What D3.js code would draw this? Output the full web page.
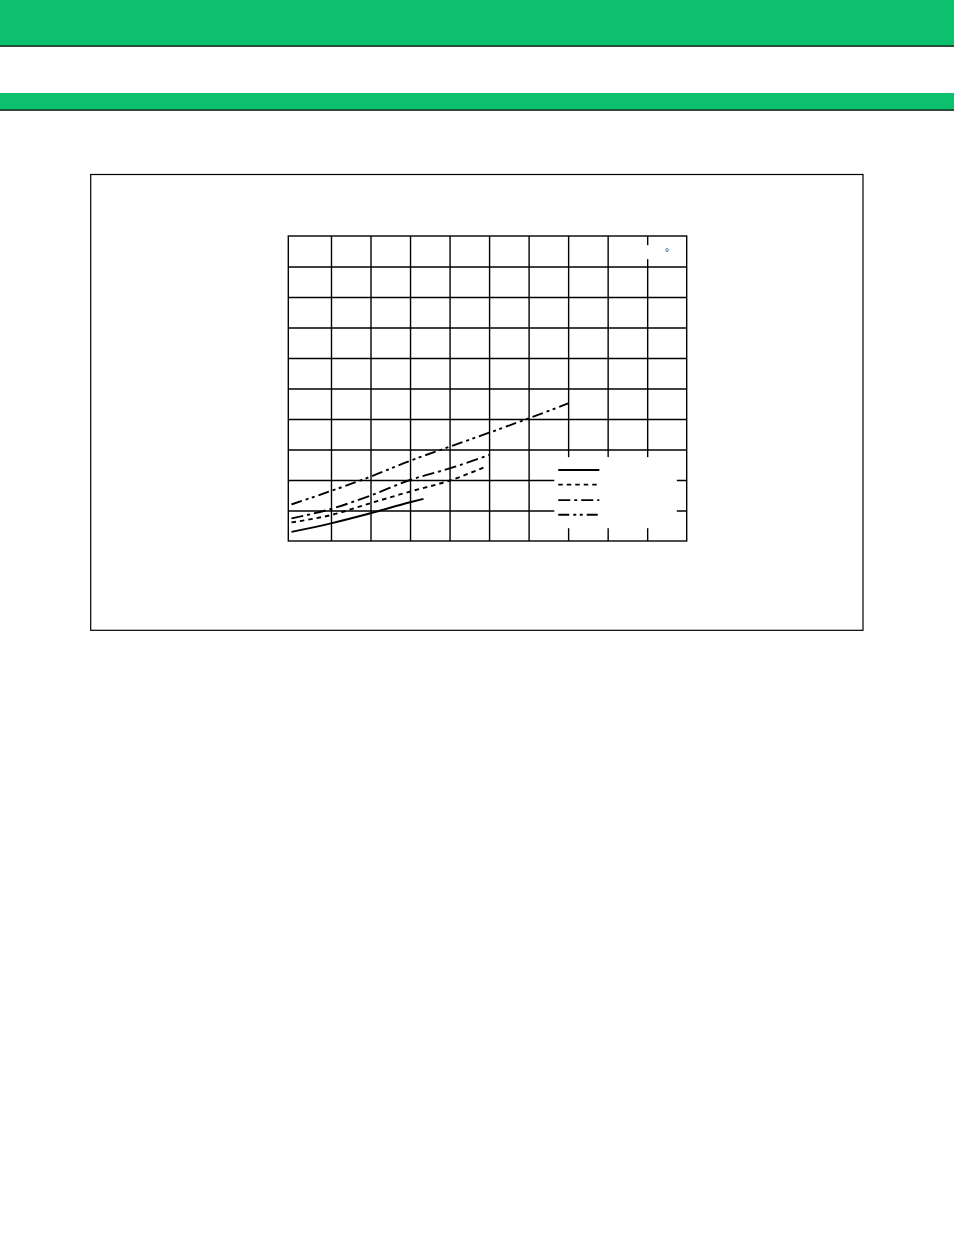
<!DOCTYPE html>
<html lang="en">
<head>
    <meta charset="UTF-8">
    <title>Chart</title>
    <script src="https://d3js.org/d3.v7.min.js"></script>
    <style>
        body {
            margin: 0;
            background: #fff;
            font-family: Arial, "Liberation Sans", sans-serif;
        }
        .grid line {
            stroke: #000;
            stroke-width: 1.4;
        }
        .grid path {
            display: none;
        }
        .series {
            fill: none;
            stroke: #000;
            stroke-width: 1.9;
        }
    </style>
</head>
<body>
    <div id="chart"></div>

    <script>
        // Grid tick positions (axis labels are not shown in the picture)
        const xTicks = [1, 2, 3, 4, 5, 6, 7, 8, 9];
        const yTicks = [1, 2, 3, 4, 5, 6, 7, 8, 9];
        const xDomain = [-0.08, 10];
        const yDomain = [0, 10];

        // Series values (grid units)
        const seriesKeys = ["s1", "s2", "s3", "s4"];
        const s1X = [0, 1, 2, 3, 3.34];
        const s1Y = [0.30, 0.58, 0.91, 1.27, 1.38];
        const s2X = [0, 1, 2, 3, 4, 4.92];
        const s2Y = [0.61, 0.85, 1.24, 1.62, 1.98, 2.44];
        const s3X = [0, 1, 2, 3, 4, 5];
        const s3Y = [0.74, 1.05, 1.49, 2.00, 2.38, 2.82];
        const s4X = [0, 1, 2, 3, 4, 5, 6, 7];
        const s4Y = [1.20, 1.64, 2.11, 2.63, 3.09, 3.55, 4.02, 4.51];

        const dashes = {
            s1: null,
            s2: "4.5,4",
            s3: "12,4,3,4",
            s4: "11,4,3,3.5,3,4"
        };

        const pageW = 954, pageH = 1235;
        const green = "#0cc06e";

        const svg = d3.select("#chart")
            .append("svg")
            .attr("width", pageW)
            .attr("height", pageH);

        svg.append("rect")
            .attr("width", pageW)
            .attr("height", pageH)
            .attr("fill", "#fff");

        // Header bands
        svg.append("rect").attr("x", 0).attr("y", 0)
            .attr("width", pageW).attr("height", 46).attr("fill", green);
        svg.append("line").attr("x1", 0).attr("x2", pageW)
            .attr("y1", 46.2).attr("y2", 46.2)
            .attr("stroke", "#000").attr("stroke-width", 1.3);
        svg.append("rect").attr("x", 0).attr("y", 93)
            .attr("width", pageW).attr("height", 17).attr("fill", green);
        svg.append("line").attr("x1", 0).attr("x2", pageW)
            .attr("y1", 110.2).attr("y2", 110.2)
            .attr("stroke", "#000").attr("stroke-width", 1.3);

        // Outer frame
        svg.append("rect")
            .attr("x", 90.7).attr("y", 174.5)
            .attr("width", 772.3).attr("height", 455.8)
            .attr("fill", "none")
            .attr("stroke", "#000")
            .attr("stroke-width", 1.2);

        // Plot area
        const plot = { left: 288.3, top: 236, right: 686.7, bottom: 541 };
        const width = plot.right - plot.left;
        const height = plot.bottom - plot.top;

        const g = svg.append("g")
            .attr("transform", `translate(${plot.left},${plot.top})`);

        const x = d3.scaleLinear().domain(xDomain).range([0, width]);
        const y = d3.scaleLinear().domain(yDomain).range([height, 0]);

        // Grid
        g.append("g")
            .attr("class", "grid")
            .attr("transform", `translate(0,${height})`)
            .call(d3.axisBottom(x).tickValues(xTicks).tickSize(-height).tickFormat(""));

        g.append("g")
            .attr("class", "grid")
            .call(d3.axisLeft(y).tickValues(yTicks).tickSize(-width).tickFormat(""));

        // White gaps where labels sat
        g.append("rect")
            .attr("x", x(8.85)).attr("y", y(9.7))
            .attr("width", x(9.95) - x(8.85))
            .attr("height", y(9.24) - y(9.7))
            .attr("fill", "#fff");

        g.append("rect")
            .attr("x", x(6.65)).attr("y", y(2.75))
            .attr("width", x(9.75) - x(6.65))
            .attr("height", y(0.42) - y(2.75))
            .attr("fill", "#fff");

        // Plot border
        g.append("rect")
            .attr("width", width)
            .attr("height", height)
            .attr("fill", "none")
            .attr("stroke", "#000")
            .attr("stroke-width", 1.4);

        g.append("text")
            .attr("x", x(9.5))
            .attr("y", y(9.36))
            .attr("font-size", 11)
            .attr("fill", "#333")
            .attr("text-anchor", "middle")
            .text("°");

        // Series
        const seriesData = {
            s1: d3.zip(s1X, s1Y),
            s2: d3.zip(s2X, s2Y),
            s3: d3.zip(s3X, s3Y),
            s4: d3.zip(s4X, s4Y)
        };

        const line = d3.line()
            .x(d => x(d[0]))
            .y(d => y(d[1]))
            .curve(d3.curveMonotoneX);

        seriesKeys.forEach(key => {
            g.append("path")
                .datum(seriesData[key])
                .attr("class", "series")
                .attr("d", line)
                .attr("stroke-dasharray", dashes[key]);
        });

        // Legend (line samples only)
        const legendYs = [2.33, 1.85, 1.34, 0.86];
        const legend = g.append("g");
        seriesKeys.forEach((key, i) => {
            legend.append("line")
                .attr("class", "series")
                .attr("x1", x(6.75))
                .attr("x2", x(7.79))
                .attr("y1", y(legendYs[i]))
                .attr("y2", y(legendYs[i]))
                .attr("stroke-dasharray", dashes[key]);
        });
    </script>
</body>
</html>
